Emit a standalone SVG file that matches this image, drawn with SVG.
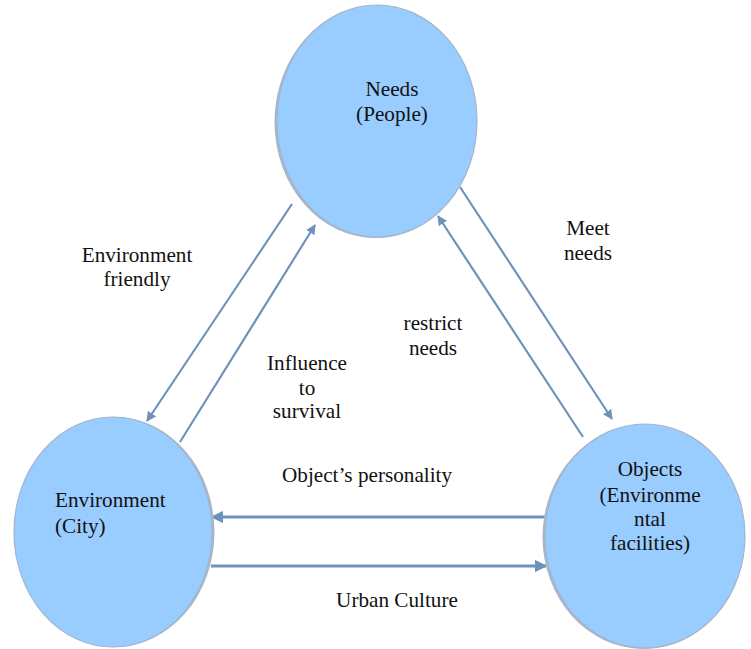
<svg xmlns="http://www.w3.org/2000/svg" width="751" height="649" viewBox="0 0 751 649">
<defs>
<marker id="ah" viewBox="0 0 10 10" refX="9" refY="5" markerWidth="4.5" markerHeight="4.5" orient="auto" markerUnits="strokeWidth">
<path d="M0,0 L10,5 L0,10 z" fill="#6F92BC"/>
</marker>
</defs>
<style>
.node{fill:#99CCFF;stroke:#A3B6CC;stroke-width:1.2}
.shadow{fill:#A7B7C9}
text{font-family:'Liberation Serif','Times New Roman',Times,serif;font-size:21.2px;fill:#111}
.c{text-anchor:middle}
.ln{stroke:#6F92BC;stroke-width:2.2;fill:none}
.lh{stroke:#6F92BC;stroke-width:2.8;fill:none}
</style>
<rect width="751" height="649" fill="#ffffff"/>
<g id="connectors">
<line class="ln" x1="292" y1="204" x2="147" y2="421" marker-end="url(#ah)"/>
<line class="ln" x1="180" y1="442" x2="315" y2="225" marker-end="url(#ah)"/>
<line class="ln" x1="583" y1="437" x2="438" y2="216" marker-end="url(#ah)"/>
<line class="ln" x1="460" y1="187" x2="612" y2="419" marker-end="url(#ah)"/>
<line class="lh" x1="545" y1="517" x2="212" y2="517" marker-end="url(#ah)"/>
<line class="lh" x1="211" y1="566" x2="546" y2="566" marker-end="url(#ah)"/>
</g>
<g id="needs" font-family="Liberation Serif, serif">
<ellipse class="shadow" cx="375.5" cy="122" rx="101" ry="116"/>
<ellipse class="node" cx="377" cy="121" rx="100" ry="116"/>
<text class="c" x="392" y="96">Needs</text>
<text class="c" x="392" y="121">(People)</text>
</g>
<g id="environment" font-family="Liberation Serif, serif">
<ellipse class="shadow" cx="114.5" cy="532" rx="100" ry="115"/>
<ellipse class="node" cx="113" cy="532" rx="99" ry="115"/>
<text x="55" y="507">Environment</text>
<text x="55" y="533">(City)</text>
</g>
<g id="objects" font-family="Liberation Serif, serif">
<ellipse class="shadow" cx="643.5" cy="537" rx="101" ry="112"/>
<ellipse class="node" cx="645" cy="536" rx="100" ry="112"/>
<text class="c" x="650" y="476">Objects</text>
<text class="c" x="650" y="502">(Environme</text>
<text class="c" x="650" y="526">ntal</text>
<text class="c" x="650" y="550">facilities)</text>
</g>
<g id="labels" font-family="Liberation Serif, serif">
<text class="c" x="137" y="262">Environment</text>
<text class="c" x="137" y="286">friendly</text>
<text class="c" x="307" y="370">Influence</text>
<text class="c" x="307" y="395">to</text>
<text class="c" x="307" y="418">survival</text>
<text class="c" x="588" y="235">Meet</text>
<text class="c" x="588" y="260">needs</text>
<text class="c" x="433" y="330">restrict</text>
<text class="c" x="433" y="355">needs</text>
<text x="282" y="482">Object’s personality</text>
<text class="c" x="397" y="607">Urban Culture</text>
</g>
</svg>
